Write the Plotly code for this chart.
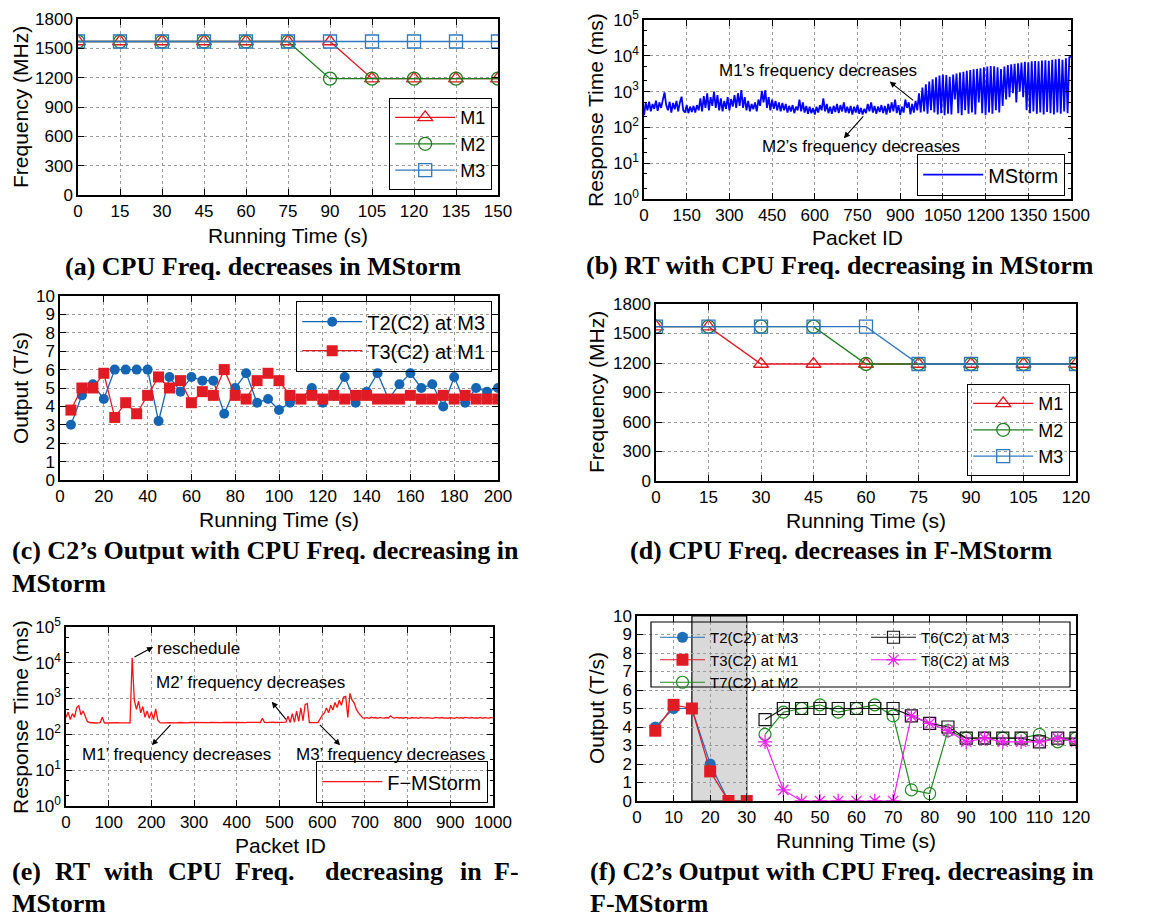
import plotly.graph_objects as go

W, H = 1156, 920
SANS = "Liberation Sans, Arial, sans-serif"
SERIF = "Liberation Serif, Times New Roman, serif"

# ---------------- data ----------------
# (a) CPU frequency, MStorm
a_time = [0, 15, 30, 45, 60, 75, 90, 105, 120, 135, 150]
a_m1 = [1570, 1570, 1570, 1570, 1570, 1570, 1570, 1190, 1190, 1190, 1190]
a_m2 = [1570, 1570, 1570, 1570, 1570, 1570, 1190, 1190, 1190, 1190, 1190]
a_m3 = [1570, 1570, 1570, 1570, 1570, 1570, 1570, 1570, 1570, 1570, 1570]

# (b) response time, MStorm (packet IDs every 6)
b_step = 6
b_rt = [
    220, 480, 300, 520, 280, 450, 330, 560, 290, 500,
    350, 650, 950, 420, 300, 520, 260, 480, 320, 550,
    280, 500, 720, 300, 260, 420, 250, 380, 270, 400,
    260, 420, 300, 650, 280, 750, 350, 900, 300, 700,
    400, 1000, 350, 800, 300, 650, 280, 550, 330, 700,
    300, 620, 380, 800, 350, 900, 400, 1100, 350, 700,
    300, 550, 280, 450, 320, 500, 280, 600, 400, 1050,
    500, 1100, 350, 700, 300, 600, 330, 550, 300, 500,
    280, 480, 300, 450, 260, 400, 280, 420, 250, 380,
    300, 600, 280, 500, 260, 400, 240, 380, 250, 350,
    230, 380, 260, 420, 300, 650, 280, 450, 250, 380,
    240, 400, 270, 450, 250, 420, 280, 500, 260, 380,
    250, 400, 230, 380, 260, 420, 240, 350, 230, 330,
    250, 450, 280, 500, 260, 400, 240, 380, 270, 420,
    250, 400, 230, 450, 260, 500, 280, 600, 250, 420,
    220, 380, 260, 600, 350, 500, 230, 450, 260, 550,
    300, 900, 260, 1300, 280, 1600, 240, 1900, 300, 2200,
    260, 2500, 230, 2800, 250, 3000, 220, 2900, 240, 2600,
    230, 3000, 600, 3200, 250, 3400, 220, 3600, 300, 3800,
    240, 4000, 260, 4200, 230, 4300, 500, 4500, 250, 4800,
    220, 5000, 260, 5200, 240, 5100, 300, 4800, 260, 4300,
    400, 5000, 600, 5500, 700, 5800, 900, 6000, 500, 6200,
    1000, 6500, 700, 6800, 300, 6600, 250, 7000, 280, 7200,
    240, 7000, 260, 7400, 230, 7500, 270, 7300, 250, 7800,
    230, 8000, 260, 8200, 240, 7800, 280, 8500, 250, 9000,
    9500,
]
b_packet = list(range(0, b_step * len(b_rt), b_step))

# (c) C2 output, MStorm
c_time = [5, 10, 15, 20, 25, 30, 35, 40, 45, 50, 55, 60, 65, 70, 75, 80, 85, 90, 95, 100,
          105, 110, 115, 120, 125, 130, 135, 140, 145, 150, 155, 160, 165, 170, 175, 180, 185, 190, 195, 200]
c_t2 = [3.0, 4.6, 5.2, 4.4, 6.0, 6.0, 6.0, 6.0, 3.2, 5.6, 4.8, 5.6, 5.4, 5.4, 3.6, 5.0, 5.8, 4.2, 4.4, 3.8,
        4.2, 4.4, 5.0, 4.2, 4.6, 5.6, 4.2, 4.8, 5.8, 4.4, 5.2, 5.8, 5.0, 5.2, 4.0, 5.6, 4.2, 5.0, 4.8, 5.0]
c_t3 = [3.8, 5.0, 5.0, 5.8, 3.4, 4.2, 3.6, 4.6, 5.6, 5.0, 5.4, 4.2, 4.8, 4.6, 6.0, 4.6, 4.4, 5.4, 5.8, 5.4,
        4.6, 4.4, 4.6, 4.4, 4.6, 4.4, 4.6, 4.6, 4.4, 4.4, 4.4, 4.6, 4.4, 4.4, 4.6, 4.4, 4.6, 4.4, 4.4, 4.4]

# (d) CPU frequency, F-MStorm
d_time = [0, 15, 30, 45, 60, 75, 90, 105, 120]
d_m1 = [1570, 1570, 1190, 1190, 1190, 1190, 1190, 1190, 1190]
d_m2 = [1570, 1570, 1570, 1570, 1190, 1190, 1190, 1190, 1190]
d_m3 = [1570, 1570, 1570, 1570, 1570, 1190, 1190, 1190, 1190]

# (e) response time, F-MStorm (packet IDs every 5)
e_step = 5
e_rt = [
    300, 420, 260, 380, 300, 560, 630, 350, 450, 300,
    230, 215, 210, 212, 208, 210, 212, 300, 210, 208,
    210, 212, 208, 210, 213, 209, 211, 208, 210, 212,
    210, 13800, 900, 500, 850, 400, 600, 300, 450, 280,
    420, 260, 520, 250, 212, 210, 215, 210, 213, 211,
    212, 214, 210, 215, 212, 216, 213, 211, 215, 214,
    213, 216, 212, 214, 217, 213, 215, 212, 216, 214,
    215, 213, 217, 214, 216, 212, 215, 218, 214, 216,
    215, 217, 214, 216, 213, 218, 215, 217, 214, 216,
    218, 215, 280, 217, 214, 218, 216, 219, 215, 217,
    216, 219, 217, 220, 320, 215, 380, 220, 450, 230,
    550, 240, 680, 730, 215, 212, 214, 213, 215, 280,
    340, 390, 550, 400, 650, 480, 780, 560, 900, 650,
    1100, 1150, 300, 1400, 900, 750, 500, 400, 330, 290,
    285, 295, 280, 300, 288, 296, 282, 298, 290, 284,
    296, 288, 330, 292, 285, 298, 287, 294, 283, 297,
    289, 282, 296, 286, 293, 281, 299, 288, 284, 295,
    287, 292, 281, 297, 289, 284, 296, 286, 291, 283,
    294, 288, 280, 298, 286, 292, 283, 297, 289, 285,
    296, 284, 291, 287, 299, 282, 293, 288, 285, 297,
    290,
]
e_packet = list(range(0, e_step * len(e_rt), e_step))

# (f) C2 output, F-MStorm
f_time_early = [5, 10, 15, 20, 25, 30]
f_t2 = [4.0, 5.0, 5.0, 2.0, 0.0, 0.0]
f_t3 = [3.8, 5.2, 5.0, 1.6, 0.0, 0.0]
f_time_late = [35, 40, 45, 50, 55, 60, 65, 70, 75, 80, 85, 90, 95, 100, 105, 110, 115, 120]
f_t6 = [4.4, 5.0, 5.0, 5.0, 5.0, 5.0, 5.0, 5.0, 4.6, 4.2, 4.0, 3.4, 3.4, 3.4, 3.4, 3.2, 3.4, 3.4]
f_t7 = [3.6, 4.8, 5.0, 5.2, 4.8, 5.0, 5.2, 4.6, 0.6, 0.4, 3.8, 3.4, 3.4, 3.4, 3.4, 3.6, 3.2, 3.4]
f_t8 = [3.2, 0.6, 0.0, 0.0, 0.0, 0.0, 0.0, 0.0, 4.6, 4.2, 3.8, 3.2, 3.4, 3.2, 3.2, 3.2, 3.4, 3.2]
f_shade = [15, 30]

# tick labels
freq_ticks = [0, 300, 600, 900, 1200, 1500, 1800]
log_tickvals = [1, 10, 100, 1000, 10000, 100000]
log_ticktext = ["10<sup>0</sup>", "10<sup>1</sup>", "10<sup>2</sup>", "10<sup>3</sup>",
                "10<sup>4</sup>", "10<sup>5</sup>"]

# ---------------- styling helpers ----------------
RED = "#e4161e"
GREEN = "#1e7d1e"
BLUE = "#2f78c0"


def px_x(p):
    return p / W


def px_y(p):
    return 1 - p / H


def dom_x(a, b):
    return [px_x(a), px_x(b)]


def dom_y(top, bottom):
    return [px_y(bottom), px_y(top)]


def base_axis(domain, anchor):
    return dict(
        domain=domain, anchor=anchor,
        showline=True, linecolor="black", linewidth=1.5, mirror="allticks",
        ticks="inside", ticklen=6, tickcolor="black", tickwidth=1,
        showgrid=True, gridcolor="#9c9c9c", griddash="dot", gridwidth=1,
        zeroline=False,
        tickfont=dict(family=SANS, size=17, color="black"),
        automargin=False,
    )


fig = go.Figure()

# (a)
for name, ys, col, sym in [("M1", a_m1, RED, "triangle-up-open"),
                           ("M2", a_m2, GREEN, "circle-open"),
                           ("M3", a_m3, BLUE, "square-open")]:
    fig.add_trace(go.Scatter(x=a_time, y=ys, name=name, mode="lines+markers",
                             line=dict(color=col, width=1.3),
                             marker=dict(symbol=sym, size=13, color=col, line=dict(width=1.3, color=col)),
                             xaxis="x", yaxis="y", legend="legend"))

# (b)
fig.add_trace(go.Scatter(x=b_packet, y=b_rt, name="MStorm", mode="lines",
                         line=dict(color="#0000ff", width=1.8),
                         xaxis="x2", yaxis="y2", legend="legend2"))

# (c)
fig.add_trace(go.Scatter(x=c_time, y=c_t2, name="T2(C2) at M3", mode="lines+markers",
                         line=dict(color="#1565b5", width=1.3),
                         marker=dict(symbol="circle", size=10, color="#1565b5"),
                         xaxis="x3", yaxis="y3", legend="legend3"))
fig.add_trace(go.Scatter(x=c_time, y=c_t3, name="T3(C2) at M1", mode="lines+markers",
                         line=dict(color="#e01b24", width=1.3),
                         marker=dict(symbol="square", size=11, color="#e01b24"),
                         xaxis="x3", yaxis="y3", legend="legend3"))

# (d)
for name, ys, col, sym in [("M1", d_m1, RED, "triangle-up-open"),
                           ("M2", d_m2, GREEN, "circle-open"),
                           ("M3", d_m3, BLUE, "square-open")]:
    fig.add_trace(go.Scatter(x=d_time, y=ys, name=name, mode="lines+markers",
                             line=dict(color=col, width=1.3),
                             marker=dict(symbol=sym, size=13, color=col, line=dict(width=1.3, color=col)),
                             xaxis="x4", yaxis="y4", legend="legend4"))

# (e)
fig.add_trace(go.Scatter(x=e_packet, y=e_rt, name="F\u2212MStorm", mode="lines",
                         line=dict(color="#ff1010", width=1.3),
                         xaxis="x5", yaxis="y5", legend="legend5"))

# (f)
f_traces = [
    ("T2(C2) at M3", f_time_early, f_t2, "#1f6fb8", dict(symbol="circle", size=11, color="#1f6fb8"), "legend6"),
    ("T3(C2) at M1", f_time_early, f_t3, "#e01b24", dict(symbol="square", size=12, color="#e01b24"), "legend6"),
    ("T7(C2) at M2", f_time_late, f_t7, "#228b22",
     dict(symbol="circle-open", size=12, color="#228b22", line=dict(width=1.2, color="#228b22")), "legend6"),
    ("T6(C2) at M3", f_time_late, f_t6, "#111111",
     dict(symbol="square-open", size=12, color="#111111", line=dict(width=1.2, color="#111111")), "legend7"),
    ("T8(C2) at M3", f_time_late, f_t8, "#f020f0",
     dict(symbol="asterisk-open", size=12, color="#f020f0", line=dict(width=1.3, color="#f020f0")), "legend7"),
]
for name, xs, ys, col, mk, lg in f_traces:
    fig.add_trace(go.Scatter(x=xs, y=ys, name=name, mode="lines+markers",
                             line=dict(color=col, width=1.2), marker=mk,
                             xaxis="x6", yaxis="y6", legend=lg))

# ---------------- axes ----------------
layout = dict(
    width=W, height=H, margin=dict(l=0, r=0, t=0, b=0, autoexpand=False),
    paper_bgcolor="white", plot_bgcolor="white", showlegend=True,
)

xa = base_axis(dom_x(78, 498), "y")
xa.update(range=[0, 150], tickvals=a_time)
ya = base_axis(dom_y(19, 195), "x")
ya.update(range=[0, 1800], tickvals=freq_ticks)
xb = base_axis(dom_x(644, 1071), "y2")
xb.update(range=[0, 1500], dtick=150, tick0=0)
yb = base_axis(dom_y(20, 199), "x2")
yb.update(type="log", range=[0, 5], tickvals=log_tickvals, ticktext=log_ticktext,
          minor=dict(ticks="inside", ticklen=3, tickcolor="black", showgrid=False))
xc = base_axis(dom_x(60, 498), "y3")
xc.update(range=[0, 200], dtick=20, tick0=0)
yc = base_axis(dom_y(296, 480), "x3")
yc.update(range=[0, 10], dtick=1, tick0=0)
xd = base_axis(dom_x(656, 1076), "y4")
xd.update(range=[0, 120], tickvals=d_time)
yd = base_axis(dom_y(304, 481), "x4")
yd.update(range=[0, 1800], tickvals=freq_ticks)
xe = base_axis(dom_x(66, 493), "y5")
xe.update(range=[0, 1000], dtick=100, tick0=0)
ye = base_axis(dom_y(627, 806), "x5")
ye.update(type="log", range=[0, 5], tickvals=log_tickvals, ticktext=log_ticktext,
          minor=dict(ticks="inside", ticklen=3, tickcolor="black", showgrid=False))
xf = base_axis(dom_x(637, 1076), "y6")
xf.update(range=[0, 120], dtick=10, tick0=0)
yf = base_axis(dom_y(616, 801), "x6")
yf.update(range=[0, 10], dtick=1, tick0=0)

layout.update(xaxis=xa, yaxis=ya, xaxis2=xb, yaxis2=yb, xaxis3=xc, yaxis3=yc,
              xaxis4=xd, yaxis4=yd, xaxis5=xe, yaxis5=ye, xaxis6=xf, yaxis6=yf)


def legend_box(x_px, y_px, xanchor, yanchor, size=18, border=1.2, itemwidth=60):
    return dict(x=px_x(x_px), y=px_y(y_px), xanchor=xanchor, yanchor=yanchor,
                xref="container", yref="container", itemwidth=itemwidth,
                bgcolor="rgba(255,255,255,0)", bordercolor="black", borderwidth=border,
                font=dict(family=SANS, size=size, color="black"))


layout.update(
    legend=legend_box(492, 190, "right", "bottom", size=18),
    legend2=legend_box(1065, 196, "right", "bottom", size=20),
    legend3=legend_box(492, 301, "right", "top", size=20),
    legend4=legend_box(1070, 476, "right", "bottom", size=18),
    legend5=legend_box(488, 803, "right", "bottom", size=20),
    legend6=legend_box(655, 621, "left", "top", size=15, border=0, itemwidth=45),
    legend7=legend_box(866, 621, "left", "top", size=15, border=0, itemwidth=45),
)

layout["shapes"] = [
    dict(type="rect", xref="x6", yref="y6", x0=f_shade[0], x1=f_shade[1], y0=0, y1=10,
         fillcolor="#d9d9d9", line=dict(color="black", width=1.2), layer="below"),
    # frame around the two-column legend of (f)
    dict(type="rect", xref="paper", yref="paper", x0=px_x(651), x1=px_x(1070), y0=px_y(687), y1=px_y(622),
         line=dict(color="black", width=1.2), fillcolor="rgba(0,0,0,0)"),
]

# ---------------- annotations ----------------
ann = []


def label(xr, yr, x, y, text, xanchor="center", size=17):
    ann.append(dict(xref=xr, yref=yr, x=x, y=y, text=text, showarrow=False, xanchor=xanchor,
                    yanchor="middle", font=dict(family=SANS, size=size, color="black")))


def arrow(xr, yr, hx, hy, tx, ty):
    ann.append(dict(xref=xr, yref=yr, x=hx, y=hy, ax=tx, ay=ty, axref=xr, ayref=yr, text="",
                    showarrow=True, arrowhead=2, arrowsize=1.1, arrowwidth=1.1, arrowcolor="black"))


def axis_title(x_px, y_px, text, vertical=False):
    ann.append(dict(xref="paper", yref="paper", x=px_x(x_px), y=px_y(y_px), text=text, showarrow=False,
                    xanchor="center", yanchor="middle", textangle=-90 if vertical else 0,
                    font=dict(family=SANS, size=21, color="black")))


axis_title(288, 235, "Running Time (s)")
axis_title(20, 107, "Frequency (MHz)", vertical=True)
axis_title(857, 238, "Packet ID")
axis_title(596, 110, "Response Time (ms)", vertical=True)
axis_title(279, 519, "Running Time (s)")
axis_title(20, 388, "Output (T/s)", vertical=True)
axis_title(866, 520, "Running Time (s)")
axis_title(596, 392, "Frequency (MHz)", vertical=True)
axis_title(280, 845, "Packet ID")
axis_title(20, 717, "Response Time (ms)", vertical=True)
axis_title(856, 840, "Running Time (s)")
axis_title(596, 708, "Output (T/s)", vertical=True)

label("x2", "y2", 611, 3.58, "M1\u2019s frequency decreases")
arrow("x2", "y2", 863, 3.28, 951, 2.72)
label("x2", "y2", 763, 1.47, "M2\u2019s frequency decreases")
arrow("x2", "y2", 702, 1.70, 775, 2.35)

label("x5", "y5", 209, 4.41, "reschedule", xanchor="left")
arrow("x5", "y5", 204, 4.44, 157, 4.14)
label("x5", "y5", 433, 3.46, "M2\u2019 frequency decreases")
arrow("x5", "y5", 482, 2.91, 518, 2.38)
label("x5", "y5", 258, 1.45, "M1\u2019 frequency decreases")
arrow("x5", "y5", 201, 1.70, 248, 2.31)
label("x5", "y5", 761, 1.45, "M3\u2019 frequency decreases")
arrow("x5", "y5", 642, 1.70, 591, 2.31)


def caption(x_px, y_px, text, xanchor="center"):
    ann.append(dict(xref="paper", yref="paper", x=px_x(x_px), y=px_y(y_px), text="<b>" + text + "</b>",
                    showarrow=False, xanchor=xanchor, yanchor="middle",
                    font=dict(family=SERIF, size=26, color="black")))


caption(263, 266, "(a) CPU Freq. decreases in MStorm")
caption(840, 265, "(b) RT with CPU Freq. decreasing in MStorm")
caption(10, 550, "(c) C2\u2019s Output with CPU Freq. decreasing in", xanchor="left")
caption(10, 583, "MStorm", xanchor="left")
caption(841, 550, "(d) CPU Freq. decreases in F-MStorm")
for wx, word in [(10, "(e)"), (53, "RT"), (102, "with"), (166, "CPU"), (233, "Freq."),
                 (323, "decreasing"), (458, "in"), (492, "F-")]:
    caption(wx, 871, word, xanchor="left")
caption(10, 903, "MStorm", xanchor="left")
caption(588, 871, "(f) C2\u2019s Output with CPU Freq. decreasing in", xanchor="left")
caption(588, 903, "F-MStorm", xanchor="left")

layout["annotations"] = ann
fig.update_layout(**layout)
fig.write_html("out.html")
